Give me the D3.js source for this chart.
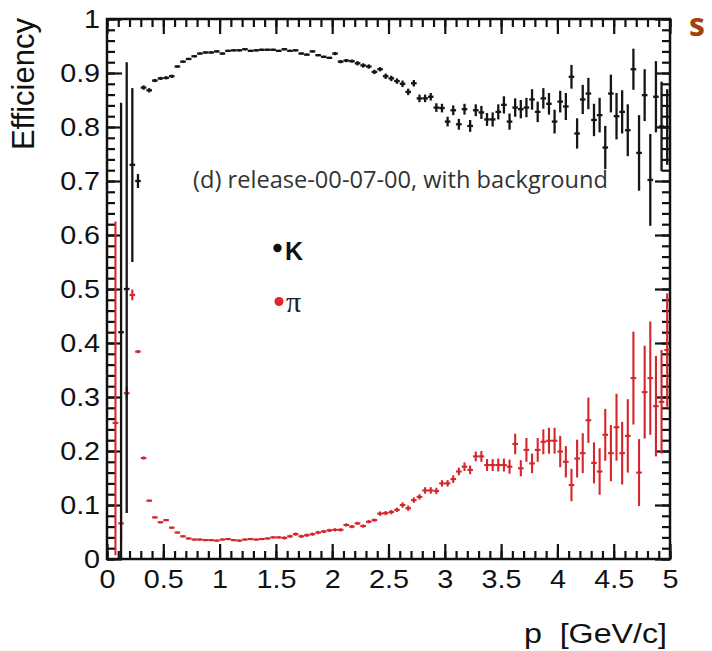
<!doctype html>
<html>
  <head>
    <script src="https://cdnjs.cloudflare.com/ajax/libs/d3/7.8.5/d3.min.js"></script>
    <style>
      body { margin: 0; background: #fff; }
      svg { display: block; }
      .tick line { stroke: #111; stroke-width: 2.2px; }
      .tick text { font-family: "Liberation Sans", Arial, sans-serif; font-size: 25px; fill: #111; }
      .domain { display: none; }
      .frame { fill: none; stroke: #111; stroke-width: 2.5px; }
      .kaon line { stroke: #151515; stroke-width: 2.3px; }
      .pion line { stroke: #d4262c; stroke-width: 2.1px; }
    </style>
  </head>
  <body>
    <svg width="712" height="651"></svg>
    <script>
      // bin centres in p [GeV/c], 0.05 wide bins
      const pBins = [0.075, 0.125, 0.175, 0.225, 0.275, 0.325, 0.375, 0.425, 0.475, 0.525,
        0.575, 0.625, 0.675, 0.725, 0.775, 0.825, 0.875, 0.925, 0.975, 1.025,
        1.075, 1.125, 1.175, 1.225, 1.275, 1.325, 1.375, 1.425, 1.475, 1.525,
        1.575, 1.625, 1.675, 1.725, 1.775, 1.825, 1.875, 1.925, 1.975, 2.025,
        2.075, 2.125, 2.175, 2.225, 2.275, 2.325, 2.375, 2.425, 2.475, 2.525,
        2.575, 2.625, 2.675, 2.725, 2.775, 2.825, 2.875, 2.925, 2.975, 3.025,
        3.075, 3.125, 3.175, 3.225, 3.275, 3.325, 3.375, 3.425, 3.475, 3.525,
        3.575, 3.625, 3.675, 3.725, 3.775, 3.825, 3.875, 3.925, 3.975, 4.025,
        4.075, 4.125, 4.175, 4.225, 4.275, 4.325, 4.375, 4.425, 4.475, 4.525,
        4.575, 4.625, 4.675, 4.725, 4.775, 4.825, 4.875, 4.925, 4.975];
      const halfBin = 0.025;

      const kaonEff = [null, 0.42, 0.50, 0.73, 0.70, 0.873, 0.868, 0.886, 0.890, 0.891,
        0.894, 0.912, 0.921, 0.926, 0.931, 0.936, 0.938, 0.938, 0.940, 0.936,
        0.941, 0.942, 0.942, 0.944, 0.941, 0.942, 0.943, 0.943, 0.943, 0.941,
        0.944, 0.941, 0.942, 0.936, 0.934, 0.940, 0.933, 0.930, 0.928, 0.936,
        0.921, 0.923, 0.922, 0.918, 0.914, 0.912, 0.902, 0.907, 0.894, 0.890,
        0.885, 0.880, 0.865, 0.881, 0.853, 0.853, 0.856, 0.836, 0.835, 0.810,
        0.831, 0.805, 0.833, 0.802, 0.831, 0.827, 0.814, 0.814, 0.828, 0.841,
        0.810, 0.836, 0.833, 0.836, 0.851, 0.828, 0.853, 0.843, 0.810, 0.847,
        0.838, 0.893, 0.788, 0.851, 0.862, 0.813, 0.822, 0.762, 0.862, 0.820,
        0.828, 0.794, 0.907, 0.752, 0.859, 0.702, 0.856, 0.801, 0.800];
      // symmetric error, or [low, high]
      const kaonErr = [null, [0.42, 0.425], [0.415, 0.42], [0.18, 0.142], 0.013, 0.004, 0.004, 0.003, 0.003, 0.003,
        0.003, 0.002, 0.002, 0.002, 0.002, 0.002, 0.002, 0.002, 0.002, 0.002,
        0.002, 0.002, 0.002, 0.002, 0.002, 0.002, 0.002, 0.002, 0.002, 0.002,
        0.002, 0.002, 0.002, 0.002, 0.002, 0.002, 0.002, 0.002, 0.002, 0.003,
        0.003, 0.003, 0.003, 0.004, 0.004, 0.004, 0.004, 0.004, 0.005, 0.005,
        0.005, 0.006, 0.006, 0.006, 0.007, 0.007, 0.007, 0.008, 0.008, 0.009,
        0.009, 0.010, 0.010, 0.011, 0.011, 0.012, 0.012, 0.013, 0.014, 0.016,
        0.015, 0.017, 0.017, 0.018, 0.019, 0.019, 0.019, 0.020, 0.022, 0.020,
        0.025, 0.022, 0.028, 0.027, 0.029, 0.030, 0.032, 0.040, 0.035, 0.043,
        0.040, 0.048, 0.038, 0.070, 0.048, 0.085, 0.066, 0.083, 0.070];

      const pionEff = [0.252, 0.066, 0.307, 0.489, 0.384, 0.187, 0.108, 0.077, 0.068, 0.072,
        0.058, 0.049, 0.042, 0.038, 0.036, 0.036, 0.035, 0.035, 0.034, 0.036,
        0.037, 0.035, 0.034, 0.036, 0.037, 0.036, 0.037, 0.038, 0.040, 0.040,
        0.039, 0.042, 0.046, 0.042, 0.044, 0.046, 0.049, 0.051, 0.053, 0.054,
        0.054, 0.063, 0.060, 0.066, 0.061, 0.069, 0.072, 0.084, 0.085, 0.087,
        0.091, 0.100, 0.094, 0.109, 0.115, 0.127, 0.127, 0.126, 0.140, 0.140,
        0.148, 0.162, 0.171, 0.165, 0.190, 0.190, 0.174, 0.174, 0.174, 0.174,
        0.171, 0.213, 0.168, 0.202, 0.177, 0.202, 0.217, 0.219, 0.219, 0.199,
        0.180, 0.137, 0.186, 0.196, 0.257, 0.178, 0.162, 0.230, 0.196, 0.244,
        0.196, 0.228, 0.335, 0.160, 0.309, 0.335, 0.283, 0.291, 0.387];
      const pionErr = [[0.245, 0.373], 0.030, 0.012, 0.010, 0.003, 0.003, 0.002, 0.002, 0.002, 0.002,
        0.002, 0.002, 0.002, 0.002, 0.002, 0.002, 0.002, 0.002, 0.002, 0.002,
        0.002, 0.002, 0.002, 0.002, 0.002, 0.002, 0.002, 0.002, 0.002, 0.002,
        0.003, 0.003, 0.003, 0.003, 0.003, 0.003, 0.003, 0.003, 0.003, 0.003,
        0.003, 0.003, 0.003, 0.003, 0.003, 0.003, 0.003, 0.004, 0.004, 0.004,
        0.004, 0.005, 0.005, 0.005, 0.005, 0.006, 0.006, 0.006, 0.006, 0.006,
        0.007, 0.007, 0.008, 0.008, 0.009, 0.010, 0.011, 0.011, 0.012, 0.012,
        0.013, 0.019, 0.015, 0.022, 0.018, 0.022, 0.023, 0.024, 0.024, 0.029,
        0.029, 0.030, 0.035, 0.037, 0.042, 0.038, 0.043, 0.048, 0.052, 0.062,
        0.058, 0.068, 0.086, 0.062, 0.086, 0.105, 0.093, 0.096, 0.105];

      const xTicks = [0, 0.5, 1, 1.5, 2, 2.5, 3, 3.5, 4, 4.5, 5];
      const yTicks = [0, 0.1, 0.2, 0.3, 0.4, 0.5, 0.6, 0.7, 0.8, 0.9, 1];

      var svg = d3.select("svg");
      var x = d3.scaleLinear().domain([0, 5]).range([107, 670]);
      var y = d3.scaleLinear().domain([0, 1]).range([559, 19]);
      var fmt = d3.format("~g");

      svg.append("clipPath").attr("id", "plotClip")
        .append("rect")
          .attr("x", x(0)).attr("y", y(1))
          .attr("width", x(5) - x(0)).attr("height", y(0) - y(1));

      // ROOT style: ticks on all four sides, pointing inwards
      svg.append("g").attr("transform", `translate(0,${y(0)})`)
        .call(d3.axisBottom(x).tickValues(x.ticks(50)).tickSize(-8).tickFormat(""));
      svg.append("g").attr("transform", `translate(0,${y(0)})`)
        .call(d3.axisBottom(x).tickValues(xTicks).tickSize(-15).tickPadding(11).tickFormat(fmt))
        .selectAll("text").attr("transform", "scale(1.15,1)");
      svg.append("g").attr("transform", `translate(0,${y(1)})`)
        .call(d3.axisTop(x).tickValues(x.ticks(50)).tickSize(-8).tickFormat(""));
      svg.append("g").attr("transform", `translate(0,${y(1)})`)
        .call(d3.axisTop(x).tickValues(xTicks).tickSize(-15).tickFormat(""));

      svg.append("g").attr("transform", `translate(${x(0)},0)`)
        .call(d3.axisLeft(y).tickValues(y.ticks(50)).tickSize(-8).tickFormat(""));
      svg.append("g").attr("transform", `translate(${x(0)},0)`)
        .call(d3.axisLeft(y).tickValues(yTicks).tickSize(-15).tickPadding(6).tickFormat(fmt))
        .selectAll("text").attr("transform", "scale(1.15,1)");
      svg.append("g").attr("transform", `translate(${x(5)},0)`)
        .call(d3.axisRight(y).tickValues(y.ticks(50)).tickSize(-8).tickFormat(""));
      svg.append("g").attr("transform", `translate(${x(5)},0)`)
        .call(d3.axisRight(y).tickValues(yTicks).tickSize(-15).tickFormat(""));

      svg.append("rect").attr("class", "frame")
        .attr("x", x(0)).attr("y", y(1))
        .attr("width", x(5) - x(0)).attr("height", y(0) - y(1));

      function drawSeries(vals, errs, cls) {
        var pts = pBins.map((p, i) => {
          var e = errs[i];
          var lo = Array.isArray(e) ? e[0] : e;
          var hi = Array.isArray(e) ? e[1] : e;
          return { p: p, v: vals[i], lo: lo, hi: hi };
        }).filter(d => d.v != null);

        var g = svg.append("g").attr("class", cls).attr("clip-path", "url(#plotClip)");
        var pt = g.selectAll("g").data(pts).enter().append("g");
        pt.append("line")
          .attr("x1", d => x(d.p)).attr("x2", d => x(d.p))
          .attr("y1", d => y(Math.max(0, d.v - d.lo)))
          .attr("y2", d => y(Math.min(1, d.v + d.hi)));
        pt.append("line")
          .attr("x1", d => x(d.p - halfBin)).attr("x2", d => x(d.p + halfBin))
          .attr("y1", d => y(d.v)).attr("y2", d => y(d.v));
      }

      drawSeries(pionEff, pionErr, "pion");
      drawSeries(kaonEff, kaonErr, "kaon");

      // titles and labels
      svg.append("text")
        .attr("transform", "translate(34,18) rotate(-90)")
        .style("text-anchor", "end")
        .style("font-family", "Liberation Sans, Arial, sans-serif")
        .style("font-size", "31px").style("fill", "#111")
        .text("Efficiency");

      svg.append("text")
        .attr("transform", "translate(667,643) scale(1.15,1)")
        .style("text-anchor", "end").style("white-space", "pre")
        .style("font-family", "Liberation Sans, Arial, sans-serif")
        .style("font-size", "28px").style("fill", "#111")
        .text("p  [GeV/c]");

      svg.append("text")
        .attr("x", 193).attr("y", 188)
        .attr("textLength", 415).attr("lengthAdjust", "spacingAndGlyphs")
        .style("font-family", "Open Sans, sans-serif")
        .style("font-size", "23px").style("fill", "#333")
        .text("(d) release-00-07-00, with background");

      // legend
      svg.append("circle").attr("cx", 277.5).attr("cy", 248).attr("r", 4.2).style("fill", "#111");
      svg.append("text").attr("x", 285).attr("y", 260)
        .style("font-family", "Liberation Sans, Arial, sans-serif")
        .style("font-size", "25px").style("font-weight", "bold").style("fill", "#111")
        .text("K");
      svg.append("circle").attr("cx", 279).attr("cy", 301.5).attr("r", 4.5).style("fill", "#e3262b");
      svg.append("text").attr("x", 286).attr("y", 312)
        .style("font-family", "Liberation Serif, serif")
        .style("font-size", "30px").style("fill", "#222")
        .text("π");

      // slide title fragment at the top right
      svg.append("text").attr("x", 689).attr("y", 36)
        .style("font-family", "Open Sans, sans-serif")
        .style("font-size", "32px").style("font-weight", "bold").style("fill", "#a3400d")
        .text("s");
    </script>
  </body>
</html>
